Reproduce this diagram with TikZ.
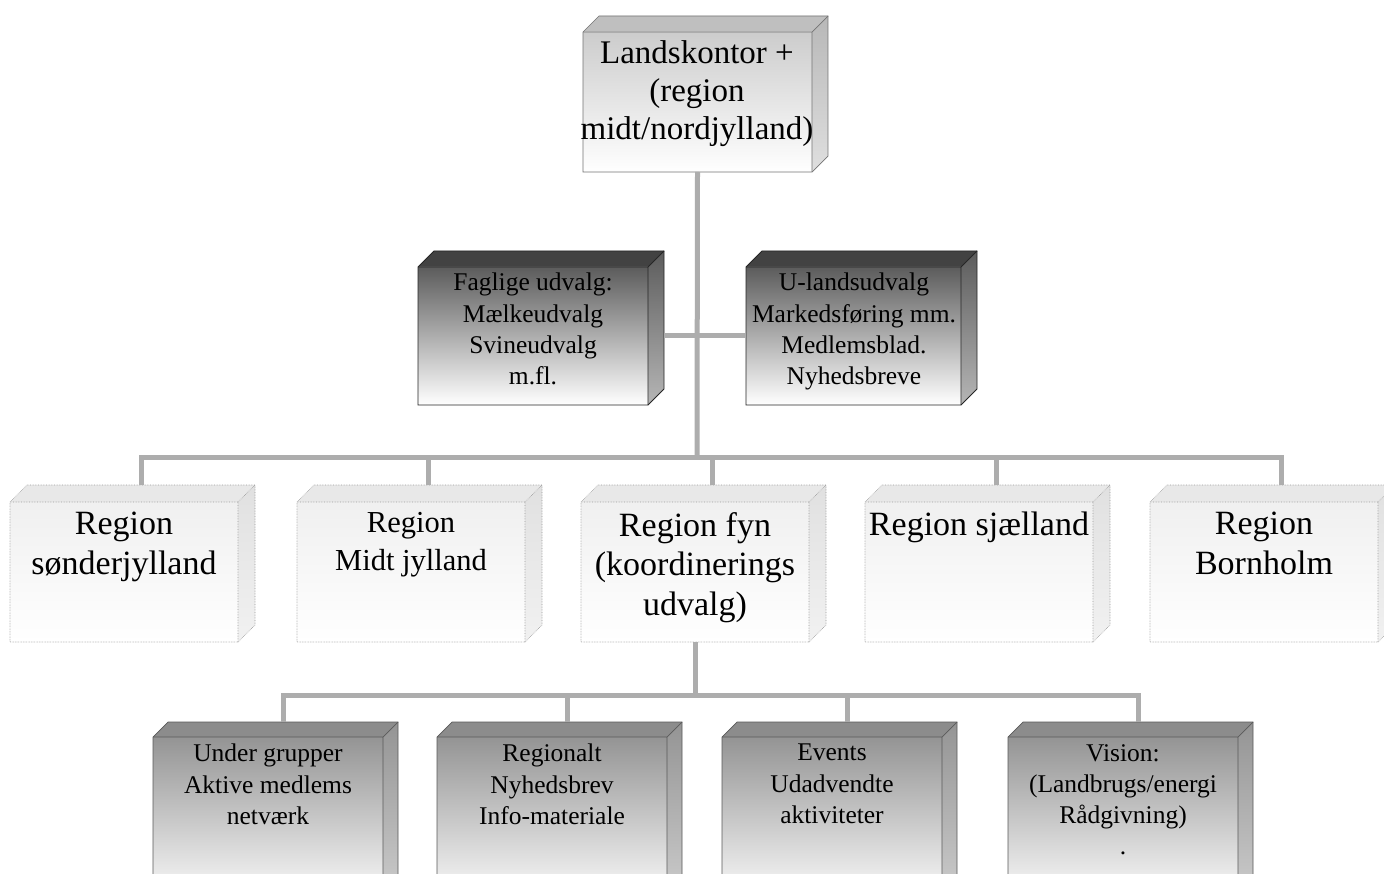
\documentclass[tikz,border=0pt]{standalone}
\usepackage{fontspec}
\setmainfont{Liberation Serif}
\colorlet{darktop}{black!74}
\colorlet{darkfront}{black!64}
\colorlet{darkside}{black!64}
\colorlet{midtop}{black!45}
\colorlet{midfront}{black!42}
\colorlet{midside}{black!42}
\colorlet{lighttop}{black!25}
\colorlet{lightfront}{black!20}
\colorlet{lightside}{black!28}
\colorlet{paletop}{black!9}
\colorlet{palefront}{black!6}
\colorlet{paleside}{black!12}
\tikzset{
  darkedge/.style={draw=black!85, line width=0.8pt},
  midedge/.style={draw=black!65, line width=0.7pt},
  lightedge/.style={draw=black!55, line width=0.7pt},
  paleedge/.style={draw=black!40, line width=0.6pt, densely dotted},
  conn/.style={draw=black!32, line width=5pt},
  txt/.style={align=center, inner sep=0pt, anchor=north, text=black},
  bigtxt/.style={txt, font=\fontsize{34}{39.5}\selectfont},
  smalltxt/.style={txt, font=\fontsize{25.5}{31.3}\selectfont},
}
% #1 name, #2 front left, #3 front top, #4 width, #5 height, #6 depth, #7 kind
\newcommand\boxthreed[7]{%
  \fill[fill=#7top] (#2,#3) -- ({#2+#6},{#3-#6}) -- ({#2+#4+#6},{#3-#6}) -- ({#2+#4},#3) -- cycle;
  \shade[top color=#7side, bottom color=#7side!45!white]
     ({#2+#4},#3) -- ({#2+#4+#6},{#3-#6}) -- ({#2+#4+#6},{#3+#5-#6}) -- ({#2+#4},{#3+#5}) -- cycle;
  \shade[top color=#7front, bottom color=white] (#2,#3) rectangle ({#2+#4},{#3+#5});
  \draw[#7edge] (#2,#3) -- ({#2+#6},{#3-#6}) -- ({#2+#4+#6},{#3-#6}) -- ({#2+#4+#6},{#3+#5-#6})
     -- ({#2+#4},{#3+#5}) -- (#2,{#3+#5}) -- cycle;
  \draw[#7edge] (#2,#3) -- ({#2+#4},#3) -- ({#2+#4+#6},{#3-#6}) ({#2+#4},#3) -- ({#2+#4},{#3+#5});
  \coordinate (#1-t) at ({#2+#6+#4/2},{#3-#6});
  \coordinate (#1-b) at ({#2+#4/2},{#3+#5});
  \coordinate (#1-l) at (#2,{#3+#5/2});
  \coordinate (#1-r) at ({#2+#4+#6},{#3+#5/2});
}
\begin{document}
\begin{tikzpicture}[x=1pt,y=-1pt]
\fill[white] (0,0) rectangle (1384,874);
\useasboundingbox (0,0) rectangle (1384,874);

\coordinate (bus1) at (697,457);
\coordinate (bus2) at (695,695);

\boxthreed{land}{583}{32}{229}{140}{16}{light}
\boxthreed{fag}{418}{267}{230}{138}{16}{dark}
\boxthreed{uland}{746}{267}{215}{138}{16}{dark}
\boxthreed{sond}{10}{502}{228}{140}{17}{pale}
\boxthreed{midt}{297}{502}{228}{140}{17}{pale}
\boxthreed{fyn}{581}{502}{228}{140}{17}{pale}
\boxthreed{sjael}{865}{502}{228}{140}{17}{pale}
\boxthreed{born}{1150}{502}{228}{140}{17}{pale}
\boxthreed{under}{153}{737}{230}{170}{15}{mid}
\boxthreed{regio}{437}{737}{230}{170}{15}{mid}
\boxthreed{event}{722}{737}{220}{170}{15}{mid}
\boxthreed{vision}{1008}{737}{230}{170}{15}{mid}

% connectors
\draw[conn] (land-b) -- (bus1);
\draw[conn] (fag-r |- uland-l) -- (uland-l);
\draw[conn] (sond-t) |- (bus1) -| (born-t);
\draw[conn] (midt-t) -- (midt-t |- bus1);
\draw[conn] (fyn-t) -- (fyn-t |- bus1);
\draw[conn] (sjael-t) -- (sjael-t |- bus1);
\draw[conn] (fyn-b) -- (bus2);
\draw[conn] (under-t) |- (bus2) -| (vision-t);
\draw[conn] (regio-t) -- (regio-t |- bus2);
\draw[conn] (event-t) -- (event-t |- bus2);

% texts
\node[txt, font=\fontsize{33}{38}\selectfont] (landtxt) at (697,40) {Landskontor +\\(region\\midt/nordjylland)};
\node[smalltxt] (fagtxt) at (533,273) {Faglige udvalg:\\Mælkeudvalg\\Svineudvalg\\m.fl.};
\node[smalltxt] (ulandtxt) at (854,273) {U-landsudvalg\\Markedsføring mm.\\Medlemsblad.\\Nyhedsbreve};
\node[bigtxt] (sondtxt) at (124,512) {Region\\sønderjylland};
\node[txt, font=\fontsize{30.5}{38}\selectfont] (midttxt) at (411,512) {Region\\Midt jylland};
\node[bigtxt] (fyntxt) at (695,512) {Region fyn\\(koordinerings\\udvalg)};
\node[bigtxt] (sjaeltxt) at (979,512) {Region sjælland};
\node[bigtxt] (borntxt) at (1264,512) {Region\\Bornholm};
\node[smalltxt] (undertxt) at (268,744) {Under grupper\\Aktive medlems\\netværk};
\node[smalltxt] (regiotxt) at (552,744) {Regionalt\\Nyhedsbrev\\Info-materiale};
\node[smalltxt] (eventtxt) at (832,744) {Events\\Udadvendte\\aktiviteter};
\node[smalltxt] (visiontxt) at (1123,744) {Vision:\\(Landbrugs/energi\\Rådgivning)\\.};
\end{tikzpicture}
\end{document}
